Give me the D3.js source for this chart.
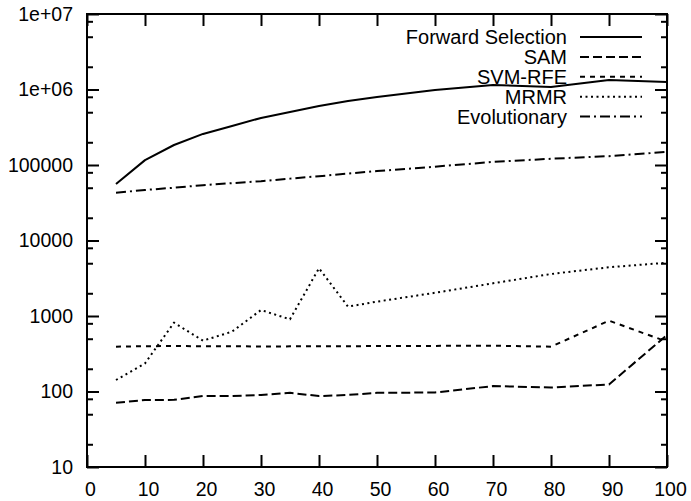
<!DOCTYPE html>
<html>
<head>
<meta charset="utf-8">
<script src="https://cdn.jsdelivr.net/npm/d3@7"></script>
<style>
	body { margin: 0; background: #fff; }
	svg text { font-family: "Liberation Sans", Arial, Helvetica, sans-serif; fill: #000; }
</style>
</head>
<body>
<svg id="chart" width="691" height="501"></svg>
<script>
// number of selected features
var features = [5, 10, 15, 20, 25, 30, 35, 40, 45, 50, 60, 70, 80, 90, 100];

// running time per method
var forwardSelection = [56000, 116000, 184000, 258000, 329000, 420000, 504000, 604000, 705000, 796000, 985000, 1150000, 1080000, 1340000, 1260000];
var sam = [71, 77, 77.5, 87, 87, 90, 96, 87, 90, 96, 97, 118, 113, 124, 560];
var svmRfe = [392, 398, 400, 398, 398, 394, 396, 398, 398, 400, 402, 405, 392, 867, 457];
var mrmr = [142, 236, 816, 471, 620, 1200, 904, 4285, 1330, 1550, 2030, 2710, 3600, 4420, 5080];
var evolutionary = [43000, 46700, 50000, 54000, 57500, 61000, 66000, 71000, 77000, 83000, 95000, 110000, 121000, 131000, 149000];

var seriesNames = ["Forward Selection", "SAM", "SVM-RFE", "MRMR", "Evolutionary"];
var seriesValues = [forwardSelection, sam, svmRfe, mrmr, evolutionary];
var seriesDash = [null, "9,4", "5,5", "2,3.5", "10,4,2,4"];

var xTicks = [0, 10, 20, 30, 40, 50, 60, 70, 80, 90, 100];
var yTicks = [10, 100, 1000, 10000, 100000, 1e6, 1e7];
var yTickLabels = ["10", "100", "1000", "10000", "100000", "1e+06", "1e+07"];

window.addEventListener("load", function () {
	var margin = {top: 14, right: 24, bottom: 34, left: 87};
	var svg = d3.select("#chart"),
		width = +svg.attr("width") - margin.left - margin.right,
		height = +svg.attr("height") - margin.top - margin.bottom;

	var x = d3.scaleLinear().domain([0, 100]).range([0, width]);
	var y = d3.scaleLog().domain([10, 1e7]).range([height, 0]);

	var g = svg.append("g")
		.attr("transform", "translate(" + margin.left + "," + margin.top + ")");

	// minor ticks on the log axis (2, 5, 8 of each decade)
	var minor = [];
	yTicks.slice(0, -1).forEach(function (d) {
		[2, 5, 8].forEach(function (m) { minor.push(d * m); });
	});

	var fmt = function (d) { return yTickLabels[yTicks.indexOf(d)]; };

	var bottom = g.append("g")
		.attr("transform", "translate(0," + height + ")")
		.call(d3.axisBottom(x).tickValues(xTicks).tickSize(-12).tickPadding(15));
	// labels sit a little right of their ticks in the original
	bottom.selectAll(".tick text").attr("dx", 3);
	g.append("g")
		.call(d3.axisTop(x).tickValues(xTicks).tickSize(-12).tickFormat(""));
	g.append("g")
		.call(d3.axisLeft(y).tickValues(yTicks).tickSize(-12).tickPadding(14).tickFormat(fmt));
	g.append("g")
		.attr("transform", "translate(" + width + ",0)")
		.call(d3.axisRight(y).tickValues(yTicks).tickSize(-12).tickFormat(""));
	g.append("g")
		.call(d3.axisLeft(y).tickValues(minor).tickSize(-6).tickFormat(""));
	g.append("g")
		.attr("transform", "translate(" + width + ",0)")
		.call(d3.axisRight(y).tickValues(minor).tickSize(-6).tickFormat(""));

	g.selectAll(".domain").remove();
	g.selectAll(".tick line").attr("stroke", "#000").attr("stroke-width", 2);
	g.selectAll(".tick text").attr("font-size", "19.5px").attr("fill", "#000");

	// data lines
	var line = d3.line()
		.x(function (d) { return x(d[0]); })
		.y(function (d) { return y(d[1]); });

	seriesValues.forEach(function (values, i) {
		g.append("path")
			.datum(features.map(function (f, j) { return [f, values[j]]; }))
			.attr("fill", "none")
			.attr("stroke", "#000")
			.attr("stroke-width", 2)
			.attr("stroke-linejoin", "round")
			.attr("stroke-dasharray", seriesDash[i])
			.attr("d", line);
	});

	// frame
	g.append("rect")
		.attr("width", width)
		.attr("height", height)
		.attr("fill", "none")
		.attr("stroke", "#000")
		.attr("stroke-width", 2);

	// legend, gnuplot style: text right aligned, sample on the right
	var legend = g.append("g").attr("transform", "translate(" + (567 - margin.left) + "," + (37 - margin.top) + ")");
	seriesNames.forEach(function (name, i) {
		var row = legend.append("g").attr("transform", "translate(0," + (i * 19.9) + ")");
		row.append("text")
			.attr("text-anchor", "end")
			.attr("dy", "0.35em")
			.attr("font-size", "20px")
			.text(name);
		row.append("line")
			.attr("x1", 13).attr("x2", 75)
			.attr("stroke", "#000")
			.attr("stroke-width", 2)
			.attr("stroke-dasharray", seriesDash[i]);
	});
});
</script>
</body>
</html>
